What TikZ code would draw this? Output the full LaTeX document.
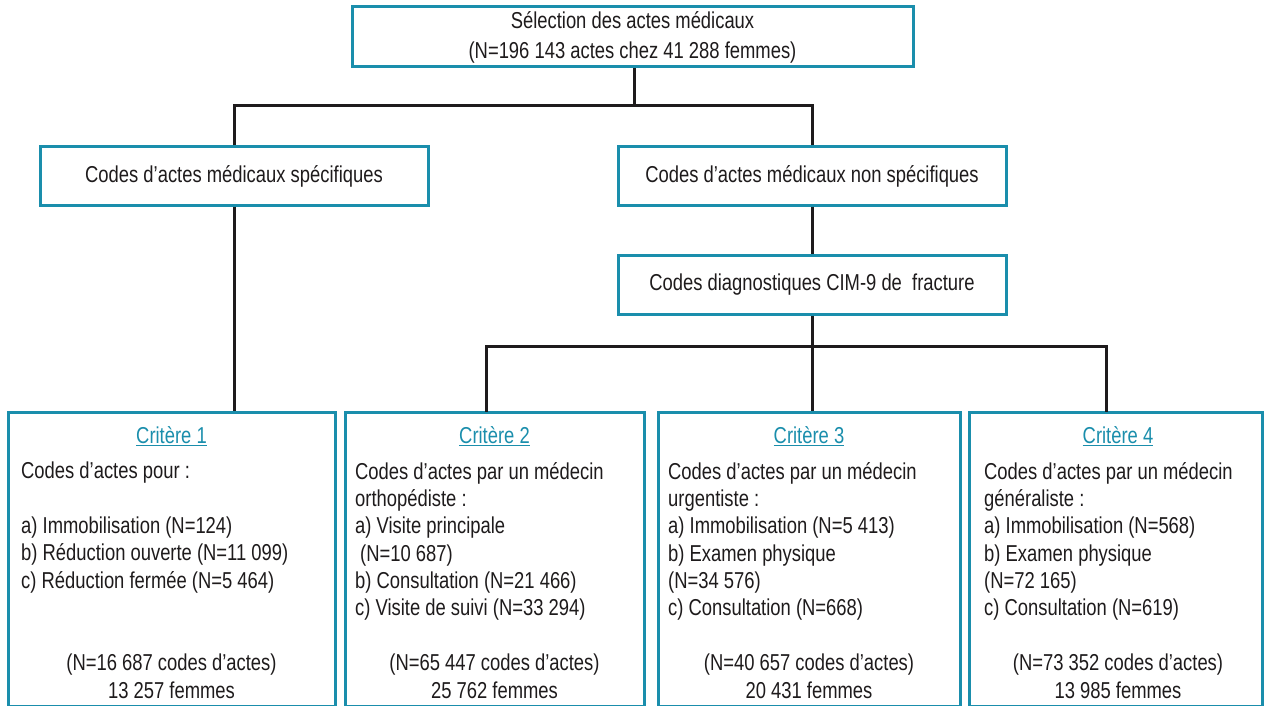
\documentclass[tikz,border=0pt]{standalone}
\usepackage{fontspec}
\setmainfont{Liberation Sans}[FakeStretch=0.8]
\definecolor{boxblue}{RGB}{26,142,172}
\definecolor{txt}{RGB}{30,27,28}
\newcommand{\mainfs}{\fontsize{23}{27.3}\selectfont}
\tikzset{
  box/.style={draw=boxblue, line width=3pt, rectangle, inner sep=0pt, text=txt, font=\mainfs, align=center},
  conn/.style={draw=txt, line width=3pt},
  crit/.style={text=boxblue, font=\mainfs, inner sep=0pt},
  body/.style={text=txt, font=\mainfs, align=left, anchor=north west, inner sep=0pt},
  tot/.style={text=txt, font=\mainfs, align=center, anchor=north, inner sep=0pt},
}
\begin{document}
\begin{tikzpicture}[x=1pt,y=-1pt]
\useasboundingbox[fill=white] (0,0) rectangle (1264,706);
% boxes
\node[box, minimum width=561pt, minimum height=60pt, font=\fontsize{23}{30}\selectfont] (top) at (632.5,37) {Sélection des actes médicaux\\(N=196 143 actes chez 41 288 femmes)};
\node[box, minimum width=388pt, minimum height=58pt] (sp) at (234,176) {Codes d’actes médicaux spécifiques};
\node[box, minimum width=388pt, minimum height=58pt] (nsp) at (812,176) {Codes d’actes médicaux non spécifiques};
\node[box, minimum width=388pt, minimum height=59pt] (cim) at (812,284.5) {Codes diagnostiques CIM-9 de\ \ fracture};
\node[box, minimum width=327pt, minimum height=294.5pt] (c1) at (171.5,559.25) {};
\node[box, minimum width=299pt, minimum height=294.5pt] (c2) at (494.5,559.25) {};
\node[box, minimum width=302pt, minimum height=294.5pt] (c3) at (809,559.25) {};
\node[box, minimum width=293pt, minimum height=294.5pt] (c4) at (1115.5,559.25) {};
% connectors
\coordinate (j1) at (634,106);
\coordinate (j2) at (812,346);
\coordinate (b2) at (486,412);
\coordinate (b4) at (1106,412);
\draw[conn] (top.south -| j1) -- (j1);
\draw[conn] (sp.north) |- (j1) -| (nsp.north);
\draw[conn] (sp.south) -- (sp.south |- c1.north);
\draw[conn] (nsp.south) -- (cim.north);
\draw[conn] (cim.south) -- (j2);
\draw[conn] (b2) |- (j2) -| (b4);
\draw[conn] (j2) -- (j2 |- c3.north);
% titles
\node[crit] (t1) at (171.5,436) {\underline{Critère 1}};
\node[crit] (t2) at (494.5,436) {\underline{Critère 2}};
\node[crit] (t3) at (809,436) {\underline{Critère 3}};
\node[crit] (t4) at (1118,436) {\underline{Critère 4}};
% bodies
\node[body] (d1) at (21,462) {Codes d’actes pour :\\[27.3pt]a) Immobilisation (N=124)\\b) Réduction ouverte (N=11 099)\\c) Réduction fermée (N=5 464)};
\node[body] (d2) at (355,462) {Codes d’actes par un médecin\\orthopédiste :\\a) Visite principale\\\hspace*{5pt}(N=10 687)\\b) Consultation (N=21 466)\\c) Visite de suivi (N=33 294)};
\node[body] (d3) at (668,462) {Codes d’actes par un médecin\\urgentiste :\\a) Immobilisation (N=5 413)\\b) Examen physique\\(N=34 576)\\c) Consultation (N=668)};
\node[body] (d4) at (984,462) {Codes d’actes par un médecin\\généraliste :\\a) Immobilisation (N=568)\\b) Examen physique\\(N=72 165)\\c) Consultation (N=619)};
% totals
\node[tot] (n1) at (171.5,654) {(N=16 687 codes d’actes)\\13 257 femmes};
\node[tot] (n2) at (494.5,654) {(N=65 447 codes d’actes)\\25 762 femmes};
\node[tot] (n3) at (809,654) {(N=40 657 codes d’actes)\\20 431 femmes};
\node[tot] (n4) at (1118,654) {(N=73 352 codes d’actes)\\13 985 femmes};
\end{tikzpicture}
\end{document}
